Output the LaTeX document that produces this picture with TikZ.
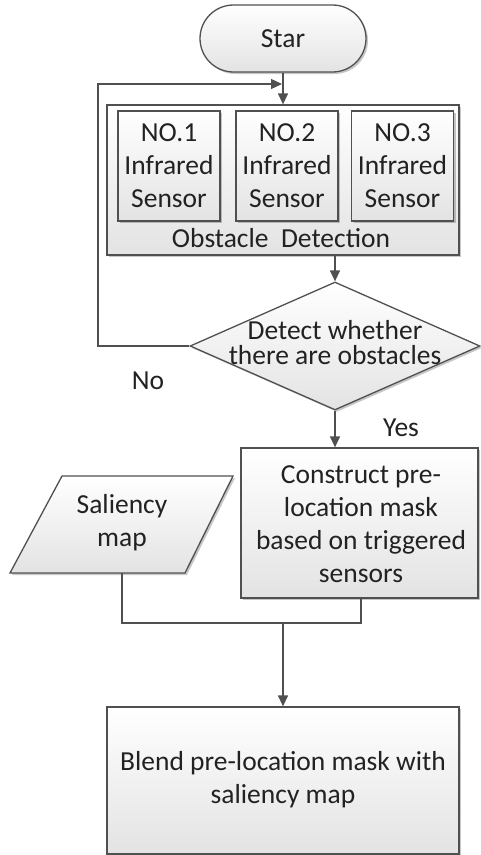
\documentclass[tikz,border=0pt]{standalone}
\usepackage{fontspec}
\setmainfont{Carlito}
\usetikzlibrary{arrows.meta,shapes.geometric,shapes.misc,shadows}
\definecolor{ln}{HTML}{505050}
\definecolor{tx}{HTML}{222222}
\tikzset{
  boxfill/.style={top color=white, bottom color=black!11, draw=ln, line width=1.3pt,
     drop shadow={shadow xshift=2pt, shadow yshift=-2pt, opacity=0.22, fill=black}},
  txt/.style={text=tx, font=\fontsize{27.5}{33}\selectfont, align=center, inner sep=0pt},
  proc/.style={boxfill, rectangle, inner sep=0pt},
  conn/.style={draw=ln, line width=1.3pt},
  arr/.style={conn, -{Triangle[length=11pt,width=10pt]}},
}
\begin{document}
\begin{tikzpicture}[x=1pt,y=-1pt]
\useasboundingbox[fill=white] (0,0) rectangle (480,855);
% start
\node[boxfill, rounded rectangle, minimum width=166pt, minimum height=67pt, inner sep=0pt] (start) at (283,38.5) {};
\node[txt] (starttxt) at (start) {Star};
% container
\node[proc, minimum width=352pt, minimum height=150pt] (obs) at (283,180) {};
\node[proc, minimum width=102pt, minimum height=110pt] (s1) at (169,166) {};
\node[proc, minimum width=102pt, minimum height=110pt] (s2) at (287,166) {};
\node[proc, minimum width=102pt, minimum height=110pt] (s3) at (402.5,166) {};
\node[txt] (s1t) at (s1) {NO.1\\Infrared\\Sensor};
\node[txt] (s2t) at (s2) {NO.2\\Infrared\\Sensor};
\node[txt] (s3t) at (s3) {NO.3\\Infrared\\Sensor};
\node[txt] (obst) at (281,238) {Obstacle\ \ Detection};
% decision
\node[boxfill, diamond, minimum width=290pt, minimum height=128pt, inner sep=0pt] (dec) at (335,346) {};
\node[txt, font=\fontsize{27.5}{25}\selectfont] (dect) at (335,343) {Detect whether\\there are obstacles};
\node[txt] (no) at (148,381) {No};
\node[txt] (yes) at (401,428) {Yes};
% construct
\node[proc, minimum width=237pt, minimum height=150pt] (con) at (359.5,523) {};
\node[txt] (cont) at (361,524) {Construct pre-\\location mask\\based on triggered\\sensors};
% saliency (parallelogram)
\coordinate (p1) at (62,476);
\coordinate (p2) at (233,476);
\coordinate (p3) at (185,573);
\coordinate (p4) at (10,573);
\coordinate (salb) at (122,573);
\path[boxfill] (p1) -- (p2) -- (p3) -- (p4) -- cycle;
\node[txt] (salt) at (122,523) {Saliency\\map};
% blend
\node[proc, minimum width=352pt, minimum height=147pt] (bl) at (283,780.5) {};
\node[txt] (blt) at (283,780) {Blend pre-location mask with\\saliency map};
% connectors
\coordinate (lx) at (98,84);
\coordinate (join) at (282,84);
\coordinate (mrg) at (283,623);
\coordinate (conb) at (361,598);
\draw[arr] (start.south) -- (obs.north);
\draw[arr] (dec.west) -| (lx) -- (join);
\draw[arr] (dec.north |- obs.south) -- (dec.north);
\draw[arr] (dec.south) -- (dec.south |- con.north);
\draw[conn] (salb) |- (mrg) -| (conb);
\draw[arr] (mrg) -- (bl.north);
\end{tikzpicture}
\end{document}
